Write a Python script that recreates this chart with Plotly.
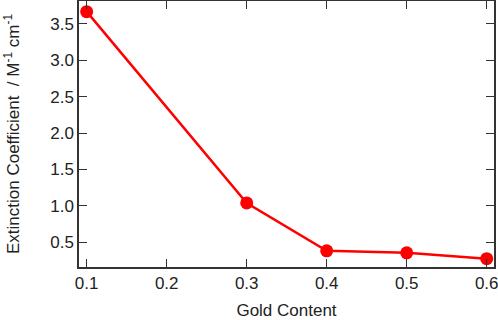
import plotly.graph_objects as go

gold_content = [0.1, 0.3, 0.4, 0.5, 0.6]
extinction = [3.664, 1.041, 0.385, 0.358, 0.277]
x_ticks = [0.1, 0.2, 0.3, 0.4, 0.5, 0.6]
y_ticks = [0.5, 1.0, 1.5, 2.0, 2.5, 3.0, 3.5]

fig = go.Figure(go.Scatter(
    x=gold_content, y=extinction, mode="lines+markers",
    line=dict(color="#ff0000", width=2.5),
    marker=dict(color="#ff0000", size=13),
))

font = dict(family="Liberation Sans, Arial, sans-serif", size=17, color="#222")
axis_common = dict(
    showline=True, linecolor="#333", linewidth=1.5, mirror="ticks",
    ticks="inside", ticklen=8, tickwidth=1.2, tickcolor="#333",
    showgrid=False, zeroline=False, tickfont=font, ticklabeloverflow="allow",
    automargin=False,
)
fig.update_xaxes(range=[0.0904, 0.6091], tickvals=x_ticks,
                 ticktext=[f"{v:.1f}" for v in x_ticks],
                 title=dict(text="Gold Content", font=font, standoff=17), **axis_common)
fig.update_yaxes(range=[0.163, 3.81], tickvals=y_ticks,
                 ticktext=[f"{v:.1f}" for v in y_ticks],
                 title=dict(text="Extinction Coefficient  / M<sup>-1</sup> cm<sup>-1</sup>", font=font, standoff=26),
                 **axis_common)
fig.update_layout(
    width=498, height=320, margin=dict(l=79, r=4, t=1, b=53),
    plot_bgcolor="white", paper_bgcolor="white", showlegend=False,
)
fig.write_html("out.html", config={"displayModeBar": False},
               post_script="document.body.style.margin='0';document.body.style.overflow='hidden';")
